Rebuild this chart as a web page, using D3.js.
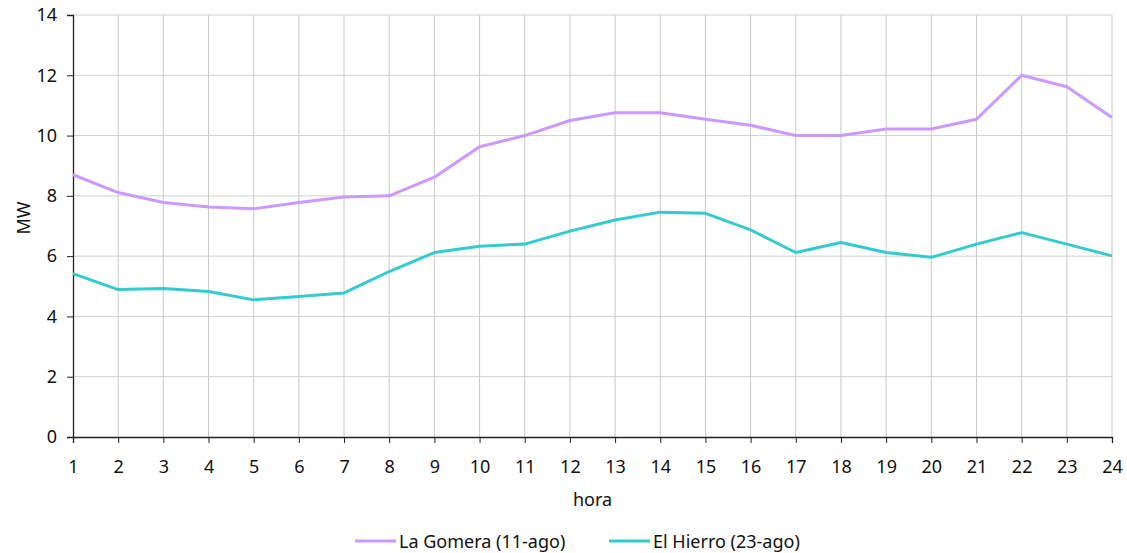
<!DOCTYPE html>
<html>
<head>
<meta charset="utf-8">
<script src="https://cdn.jsdelivr.net/npm/d3@7"></script>
<style>
  body { margin: 0; background: #fff; }
  svg text { font-family: "Noto Sans", sans-serif; fill: #111; }
</style>
</head>
<body>
<div id="chart"></div>
<script>
const hours = d3.range(1, 25);
const laGomera = [8.70, 8.11, 7.78, 7.63, 7.57, 7.78, 7.96, 8.00, 8.62, 9.63, 10.0, 10.50,
                  10.76, 10.76, 10.54, 10.34, 10.0, 10.0, 10.22, 10.22, 10.54, 12.0, 11.62, 10.60];
const elHierro = [5.42, 4.89, 4.93, 4.83, 4.55, 4.66, 4.78, 5.49, 6.12, 6.33, 6.40, 6.83,
                  7.20, 7.46, 7.42, 6.87, 6.12, 6.45, 6.12, 5.96, 6.40, 6.78, 6.40, 6.01];
const yTicks = [0, 2, 4, 6, 8, 10, 12, 14];
const seriesNames = ["La Gomera (11-ago)", "El Hierro (23-ago)"];
const seriesColors = ["#cc99ff", "#33cccc"];

const width = 1127, height = 553;
const margin = {top: 15, right: 15, bottom: 116, left: 73};

const svg = d3.select("#chart").append("svg")
    .attr("width", width)
    .attr("height", height);

const x = d3.scaleLinear().domain([1, 24]).range([margin.left, width - margin.right]);
const y = d3.scaleLinear().domain([0, 14]).range([height - margin.bottom, margin.top]);

// gridlines
svg.append("g")
    .selectAll("line")
    .data(hours.slice(1))
    .join("line")
    .attr("x1", d => x(d)).attr("x2", d => x(d))
    .attr("y1", y(0)).attr("y2", y(14))
    .attr("stroke", "#c8c8c8").attr("stroke-width", 1);

svg.append("g")
    .selectAll("line")
    .data(yTicks.slice(1))
    .join("line")
    .attr("x1", x(1)).attr("x2", x(24))
    .attr("y1", d => y(d)).attr("y2", d => y(d))
    .attr("stroke", "#d0d0d0").attr("stroke-width", 1);

// axes
const xAxis = svg.append("g")
    .attr("transform", `translate(0,${y(0)})`)
    .call(d3.axisBottom(x).tickValues(hours).tickFormat(d3.format("d")).tickSizeOuter(0).tickSize(6).tickPadding(17));
const yAxis = svg.append("g")
    .attr("transform", `translate(${x(1)},0)`)
    .call(d3.axisLeft(y).tickValues(yTicks).tickSizeOuter(0).tickSize(6).tickPadding(10));

[xAxis, yAxis].forEach(a => {
    a.select(".domain").attr("stroke", "#222").attr("stroke-width", 1.3);
    a.selectAll(".tick line").attr("stroke", "#222");
    a.selectAll(".tick text").style("font-size", "18px").attr("fill", "#111");
});

// axis titles
svg.append("text")
    .attr("x", (x(1) + x(24)) / 2)
    .attr("y", 506)
    .attr("text-anchor", "middle")
    .style("font-size", "18px")
    .text("hora");

svg.append("text")
    .attr("transform", "translate(30,218) rotate(-90)")
    .attr("text-anchor", "middle")
    .style("font-size", "18px")
    .text("MW");

// lines
const line = d3.line()
    .x((d, i) => x(hours[i]))
    .y(d => y(d));

[laGomera, elHierro].forEach((vals, k) => {
    svg.append("path")
        .datum(vals)
        .attr("d", line)
        .attr("fill", "none")
        .attr("stroke", seriesColors[k])
        .attr("stroke-width", 3)
        .attr("stroke-linejoin", "round");
});

// legend
const legendX = [355, 609];
const legend = svg.append("g");
seriesNames.forEach((name, k) => {
    const g = legend.append("g").attr("transform", `translate(${legendX[k]},541)`);
    g.append("line")
        .attr("x1", 0).attr("x2", 41)
        .attr("stroke", seriesColors[k]).attr("stroke-width", 3);
    g.append("text")
        .attr("x", 44).attr("y", 6.5)
        .style("font-size", "18px")
        .text(name);
});
</script>
</body>
</html>
